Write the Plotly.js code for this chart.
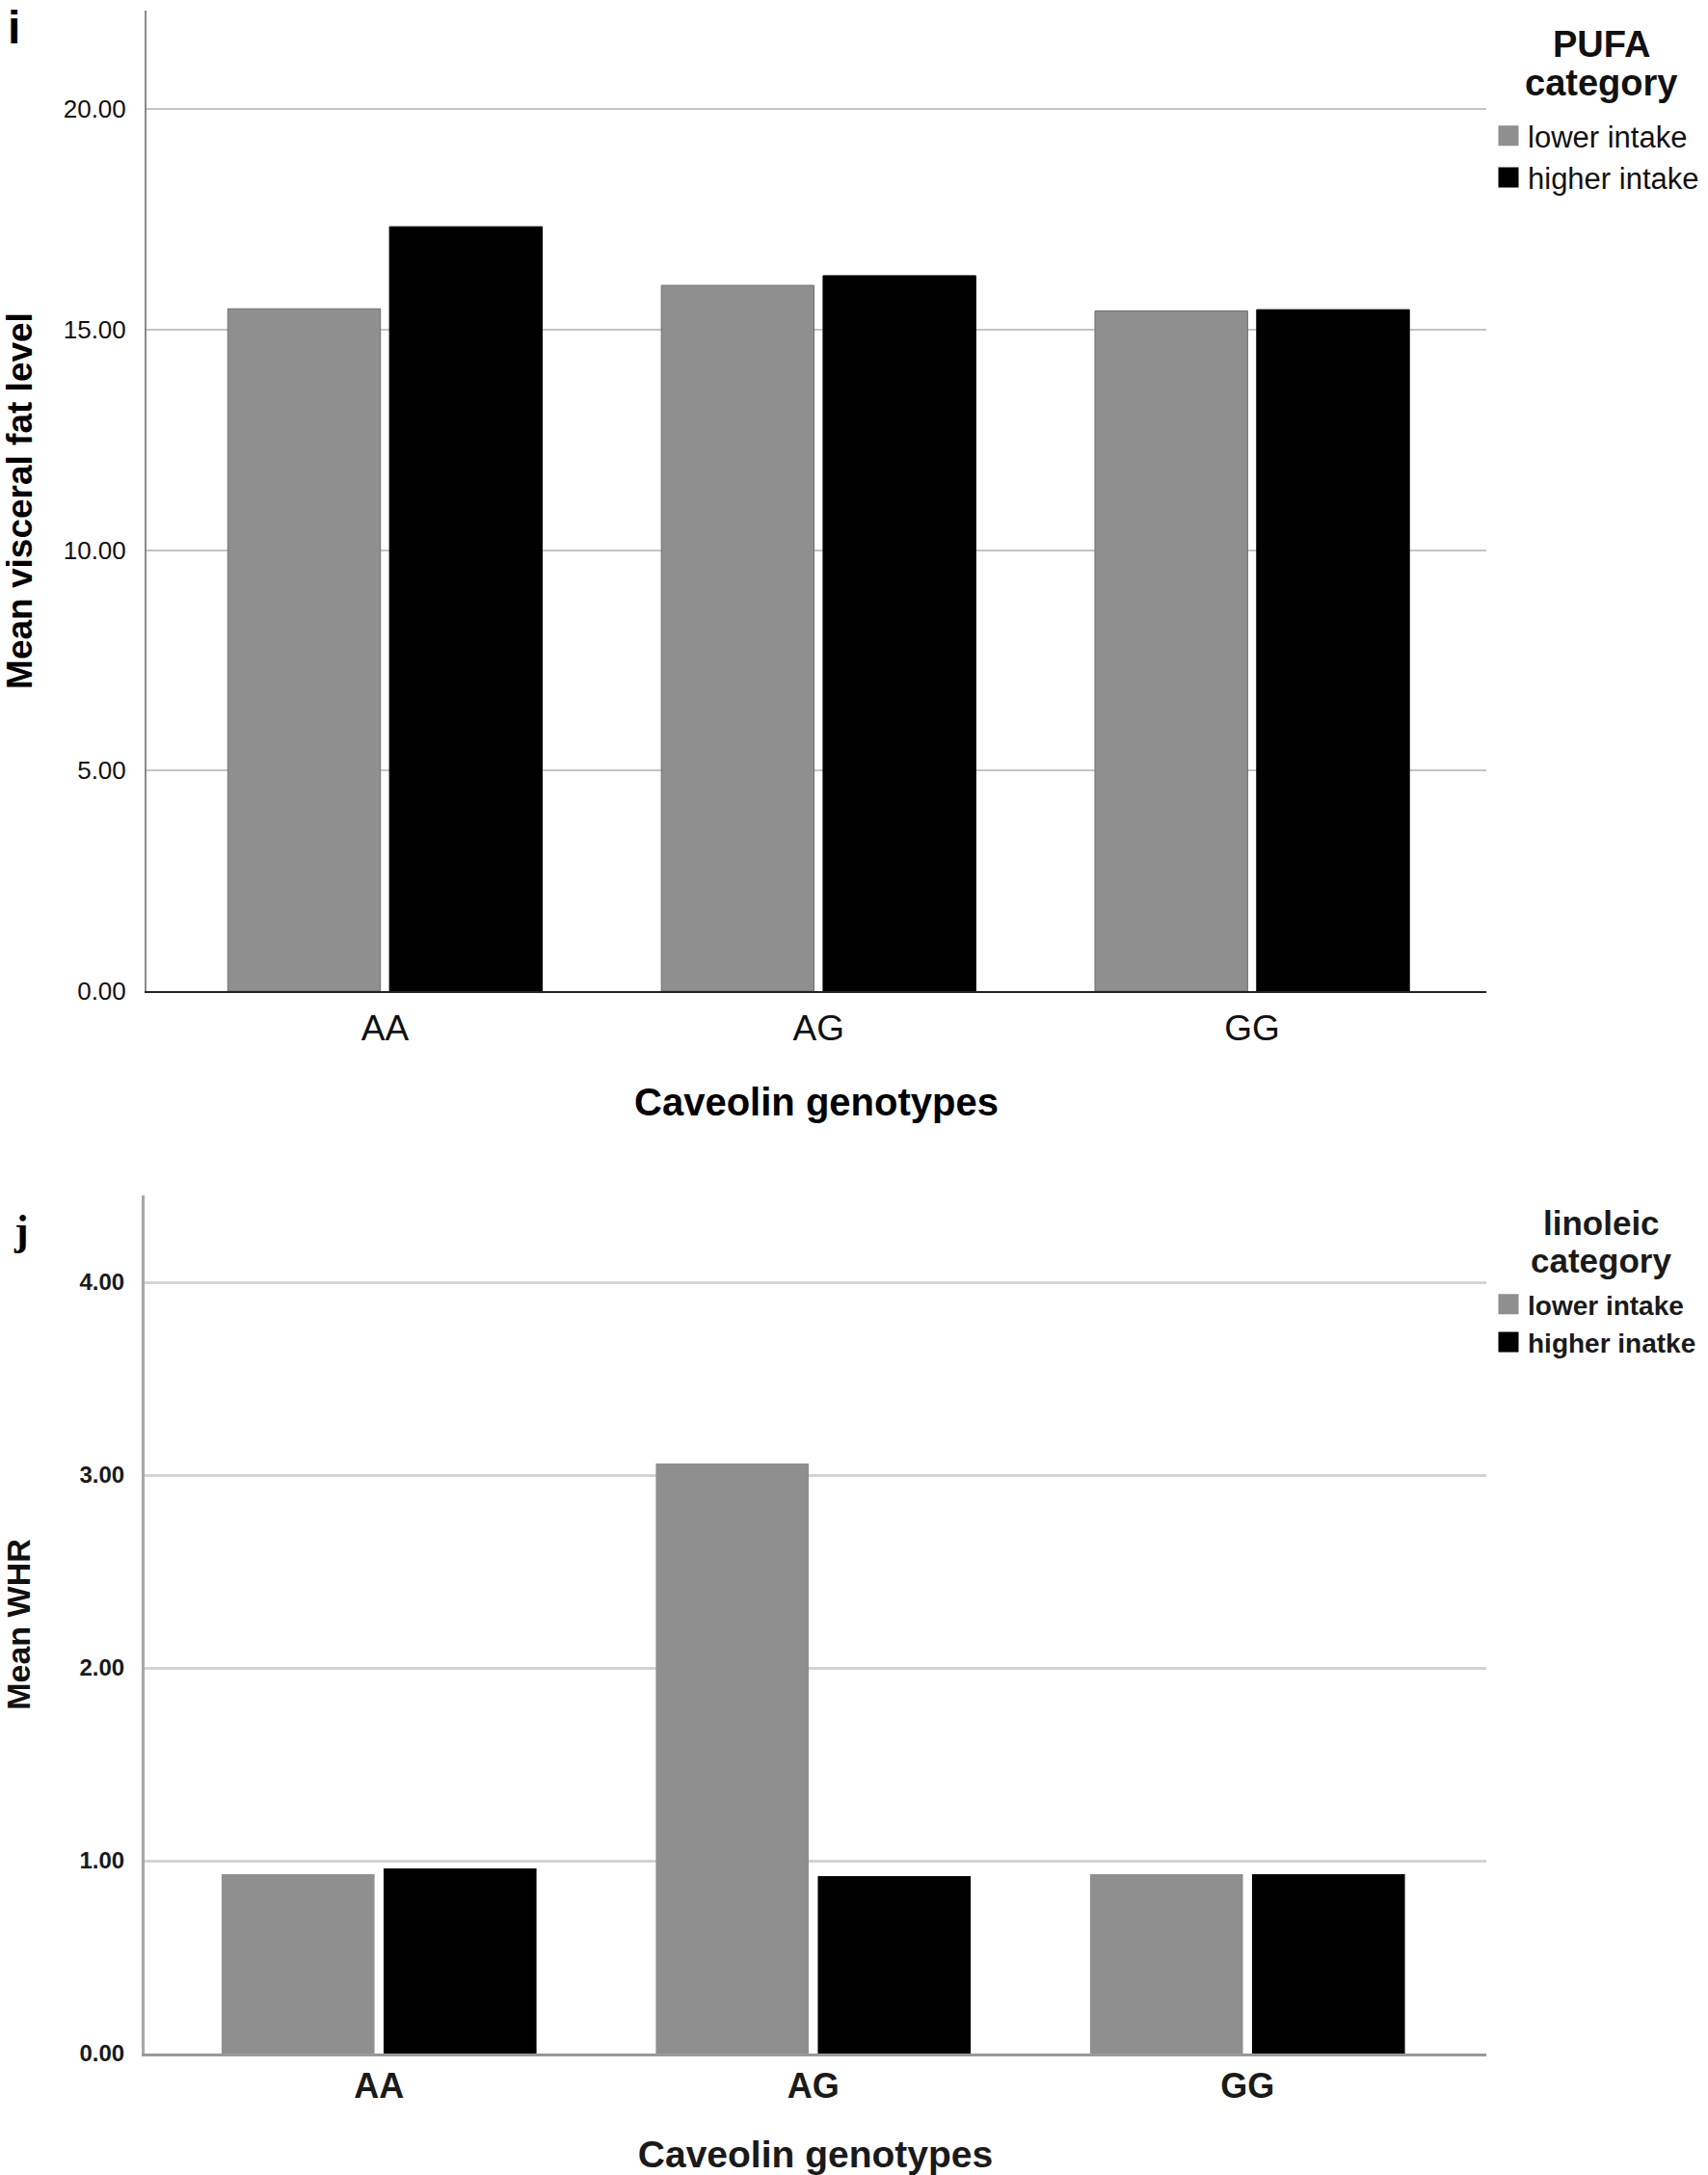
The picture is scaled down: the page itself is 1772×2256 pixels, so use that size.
<!DOCTYPE html>
<html>
<head>
<meta charset="utf-8">
<script src="https://cdn.plot.ly/plotly-3.0.1.min.js"></script>
<style>html,body{margin:0;padding:0;background:#fff;}#chart{width:1772px;height:2256px;}</style>
</head>
<body>
<div id="chart"></div>
<script>
// Data
const genotypes = ["AA", "AG", "GG"];
const pufaLower = [15.47, 16.00, 15.42];
const pufaHigher = [17.33, 16.22, 15.45];
const linoleicLower = [0.93, 3.06, 0.93];
const linoleicHigher = [0.96, 0.92, 0.93];
const seriesNames = ["lower intake", "higher intake"];
const seriesNames2 = ["lower intake", "higher inatke"];
const yTicksTop = [0, 5, 10, 15, 20];
const yTicksBottom = [0, 1, 2, 3, 4];

const GRAY = "#8f8f8f", BLACK = "#000000";
const FONT = "Liberation Sans, Arial, sans-serif";

function barTrace(y, name, color, xa, ya, lw) {
  return {type: "bar", x: genotypes, y: y, name: name, xaxis: xa, yaxis: ya, showlegend: false,
          marker: {color: color, line: {color: color === GRAY ? "#6f6f6f" : "#000", width: lw}}, hoverinfo: "skip"};
}
function legendTrace(name, color, xa, ya, legend) {
  return {type: "scatter", mode: "markers", x: [null], y: [null], name: name, xaxis: xa, yaxis: ya, legend: legend,
          marker: {symbol: "square", size: 16, color: color, line: {color: color, width: 5}}, hoverinfo: "skip"};
}

const traces = [
  barTrace(pufaLower, seriesNames[0], GRAY, "x", "y", 1),
  barTrace(pufaHigher, seriesNames[1], BLACK, "x", "y", 1),
  barTrace(linoleicLower, seriesNames2[0], GRAY, "x2", "y2", 0),
  barTrace(linoleicHigher, seriesNames2[1], BLACK, "x2", "y2", 0),
  legendTrace(seriesNames[0], GRAY, "x", "y", "legend"),
  legendTrace(seriesNames[1], BLACK, "x", "y", "legend"),
  legendTrace(seriesNames2[0], GRAY, "x2", "y2", "legend2"),
  legendTrace(seriesNames2[1], BLACK, "x2", "y2", "legend2")
];

const W = 1772, H = 2256;
const px = v => v / W, py = v => 1 - v / H;

const layout = {
  width: W, height: H,
  margin: {l: 0, r: 0, t: 0, b: 0},
  paper_bgcolor: "#fff", plot_bgcolor: "#fff",
  barmode: "group", bargap: 0.254, bargroupgap: 0.056,
  showlegend: true,
  font: {family: FONT, color: "#000"},
  xaxis: {
    domain: [px(152), px(1542)], anchor: "y",
    range: [-0.55, 2.54], showgrid: false, zeroline: false,
    showline: true, linecolor: "#222", linewidth: 2,
    ticks: "", ticklabelstandoff: 5,
    tickfont: {family: FONT, size: 37, color: "#111"},
    title: {text: "<b>Caveolin genotypes</b>", font: {family: FONT, size: 40}, standoff: 43},
    automargin: false
  },
  yaxis: {
    domain: [py(1028), py(11)], anchor: "x",
    range: [0, 22.23], tickvals: yTicksTop, ticktext: yTicksTop.map(v => v.toFixed(2)),
    showgrid: true, gridcolor: "#c4c4c4", gridwidth: 2,
    zeroline: false, showline: true, linecolor: "#8a8a8a", linewidth: 2,
    ticks: "", ticklabelstandoff: 14,
    tickfont: {family: FONT, size: 26, color: "#111"},
    title: {text: "<b>Mean visceral fat level</b>", font: {family: FONT, size: 37}, standoff: 36},
    automargin: false
  },
  xaxis2: {
    domain: [px(150), px(1542)], anchor: "y2",
    range: [-0.54, 2.55], showgrid: false, zeroline: false,
    showline: true, linecolor: "#999", linewidth: 3,
    ticks: "", ticklabelstandoff: 0,
    tickfont: {family: FONT, size: 36, color: "#1a1a1a", weight: "bold"},
    title: {text: "<b>Caveolin genotypes</b>", font: {family: FONT, size: 39, color: "#1a1a1a"}, standoff: 38},
    automargin: false
  },
  yaxis2: {
    domain: [py(2130), py(1240)], anchor: "x2",
    range: [0, 4.45], tickvals: yTicksBottom, ticktext: yTicksBottom.map(v => v.toFixed(2)),
    showgrid: true, gridcolor: "#d4d4d4", gridwidth: 3,
    zeroline: false, showline: true, linecolor: "#a8a8a8", linewidth: 3,
    ticks: "", ticklabelstandoff: 13,
    tickfont: {family: FONT, size: 24, color: "#1a1a1a", weight: "bold"},
    title: {text: "<b>Mean WHR</b>", font: {family: FONT, size: 34, color: "#111", weight: "bold"}, standoff: 42},
    automargin: false
  },
  legend: {
    x: px(1545), y: py(114), xanchor: "left", yanchor: "top",
    bgcolor: "rgba(0,0,0,0)", traceorder: "normal",
    font: {family: FONT, size: 31, color: "#111"},
    itemwidth: 30, tracegroupgap: 0
  },
  legend2: {
    x: px(1545), y: py(1328), xanchor: "left", yanchor: "top",
    bgcolor: "rgba(0,0,0,0)", traceorder: "normal",
    font: {family: FONT, size: 28, color: "#1a1a1a", weight: "bold"},
    itemwidth: 30, tracegroupgap: 0
  },
  annotations: [
    {text: "<b>i</b>", xref: "paper", yref: "paper", x: px(6), y: py(0), xanchor: "left", yanchor: "top",
     showarrow: false, font: {family: FONT, size: 48, color: "#000"}},
    {text: "<b>j</b>", xref: "paper", yref: "paper", x: px(12), y: py(1250), xanchor: "left", yanchor: "top",
     showarrow: false, font: {family: "Liberation Serif, Times New Roman, serif", size: 44, color: "#000"}},
    {text: "<b>PUFA</b>", xref: "paper", yref: "paper", x: px(1661), y: py(46), xanchor: "center", yanchor: "middle",
     showarrow: false, font: {family: FONT, size: 38, color: "#111"}},
    {text: "<b>category</b>", xref: "paper", yref: "paper", x: px(1661), y: py(86), xanchor: "center", yanchor: "middle",
     showarrow: false, font: {family: FONT, size: 38, color: "#111"}},
    {text: "<b>linoleic</b>", xref: "paper", yref: "paper", x: px(1661), y: py(1268), xanchor: "center", yanchor: "middle",
     showarrow: false, font: {family: FONT, size: 35, color: "#1a1a1a"}},
    {text: "<b>category</b>", xref: "paper", yref: "paper", x: px(1661), y: py(1307), xanchor: "center", yanchor: "middle",
     showarrow: false, font: {family: FONT, size: 35, color: "#1a1a1a"}}
  ]
};

Plotly.newPlot("chart", traces, layout, {staticPlot: true, displayModeBar: false});
</script>
</body>
</html>
